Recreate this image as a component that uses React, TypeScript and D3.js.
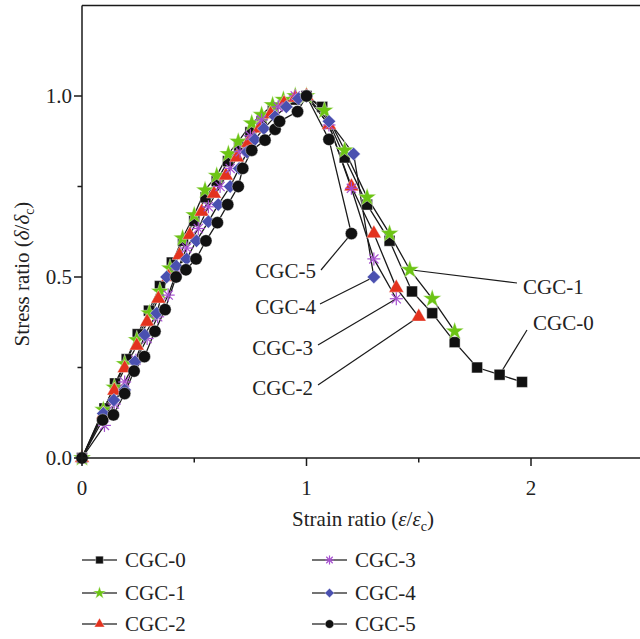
import { useEffect, useRef } from 'react';
import * as d3 from 'd3';

const WIDTH = 640;
const HEIGHT = 639;
const FONT = '"Liberation Serif", "DejaVu Serif", serif';

// strain ratio (x) and stress ratio (y) per specimen
const cgc0X = [0, 0.10, 0.147, 0.199, 0.248, 0.298, 0.347, 0.40, 0.45, 0.50, 0.55, 0.60, 0.65, 0.70, 0.75, 0.80, 0.85, 0.90, 0.95, 1.0, 1.07, 1.17, 1.27, 1.37, 1.47, 1.56, 1.66, 1.76, 1.86, 1.96];
const cgc0Y = [0, 0.137, 0.206, 0.273, 0.342, 0.407, 0.475, 0.54, 0.60, 0.655, 0.72, 0.765, 0.82, 0.86, 0.90, 0.93, 0.96, 0.98, 0.99, 1.0, 0.97, 0.83, 0.70, 0.60, 0.46, 0.40, 0.32, 0.25, 0.23, 0.21];

const cgc1X = [0, 0.095, 0.144, 0.19, 0.244, 0.30, 0.347, 0.392, 0.448, 0.50, 0.548, 0.60, 0.652, 0.696, 0.756, 0.80, 0.849, 0.897, 0.95, 1.0, 1.08, 1.17, 1.27, 1.37, 1.46, 1.56, 1.66];
const cgc1Y = [0, 0.133, 0.195, 0.26, 0.326, 0.40, 0.46, 0.524, 0.607, 0.671, 0.74, 0.78, 0.84, 0.874, 0.925, 0.948, 0.975, 0.99, 1.0, 1.0, 0.96, 0.85, 0.72, 0.62, 0.52, 0.44, 0.35];

const cgc2X = [0, 0.095, 0.144, 0.19, 0.244, 0.29, 0.34, 0.385, 0.434, 0.48, 0.533, 0.588, 0.641, 0.69, 0.74, 0.79, 0.84, 0.90, 0.95, 1.0, 1.10, 1.20, 1.30, 1.40, 1.50];
const cgc2Y = [0, 0.12, 0.186, 0.248, 0.31, 0.376, 0.44, 0.50, 0.56, 0.616, 0.68, 0.73, 0.78, 0.83, 0.87, 0.91, 0.95, 0.98, 0.995, 1.0, 0.92, 0.75, 0.62, 0.47, 0.39];

const cgc3X = [0, 0.10, 0.144, 0.19, 0.24, 0.29, 0.337, 0.384, 0.425, 0.466, 0.518, 0.563, 0.615, 0.66, 0.704, 0.75, 0.80, 0.874, 0.95, 1.0, 1.10, 1.20, 1.30, 1.40];
const cgc3Y = [0, 0.09, 0.149, 0.21, 0.27, 0.33, 0.39, 0.45, 0.52, 0.58, 0.634, 0.694, 0.75, 0.80, 0.846, 0.89, 0.934, 0.97, 1.0, 1.0, 0.92, 0.745, 0.55, 0.44];

const cgc4X = [0, 0.095, 0.142, 0.19, 0.236, 0.28, 0.333, 0.377, 0.42, 0.466, 0.51, 0.563, 0.607, 0.66, 0.70, 0.735, 0.77, 0.81, 0.86, 0.91, 0.964, 1.0, 1.10, 1.21, 1.30];
const cgc4Y = [0, 0.123, 0.16, 0.188, 0.266, 0.34, 0.40, 0.50, 0.53, 0.55, 0.60, 0.653, 0.70, 0.75, 0.80, 0.845, 0.88, 0.91, 0.943, 0.97, 0.993, 1.0, 0.93, 0.84, 0.50];

const cgc5X = [0, 0.092, 0.14, 0.19, 0.232, 0.278, 0.325, 0.37, 0.419, 0.463, 0.508, 0.552, 0.603, 0.649, 0.696, 0.716, 0.756, 0.815, 0.86, 0.88, 0.96, 1.0, 1.10, 1.20];
const cgc5Y = [0, 0.105, 0.119, 0.178, 0.24, 0.28, 0.35, 0.41, 0.50, 0.52, 0.55, 0.60, 0.65, 0.70, 0.75, 0.80, 0.85, 0.878, 0.908, 0.93, 0.957, 1.0, 0.88, 0.62];

const names = ['CGC-0', 'CGC-1', 'CGC-2', 'CGC-3', 'CGC-4', 'CGC-5'];
const colors = ['#111111', '#6cc414', '#e3321e', '#a64fd0', '#4a50b0', '#111111'];
const shapes = ['square', 'star', 'triangle', 'asterisk', 'diamond', 'circle'];

const xTicks = [0, 1, 2];
const xMinor = [0.5, 1.5, 2.5];
const yTicks = [0, 0.5, 1.0];
const yMinor = [0.25, 0.75];

const series = [
  [cgc0X, cgc0Y], [cgc1X, cgc1Y], [cgc2X, cgc2Y],
  [cgc3X, cgc3Y], [cgc4X, cgc4Y], [cgc5X, cgc5Y],
].map(([xs, ys], i) => ({
  name: names[i],
  color: colors[i],
  shape: shapes[i],
  points: xs.map((x, j) => ({ x, y: ys[j] })),
}));

// which point each callout points at, and where its label sits
const callouts = [
  { s: 5, idx: 23, lx: 321, ly: 270, tx: 316, ty: 278, anchor: 'end' },
  { s: 4, idx: 24, lx: 320, ly: 304, tx: 316, ty: 314, anchor: 'end' },
  { s: 3, idx: 23, lx: 318, ly: 345, tx: 313, ty: 355, anchor: 'end' },
  { s: 2, idx: 24, lx: 318, ly: 385, tx: 313, ty: 395, anchor: 'end' },
  { s: 1, idx: 24, lx: 517, ly: 283, tx: 523, ty: 294, anchor: 'start' },
  { s: 0, idx: 28, lx: 527, ly: 330, tx: 533, ty: 330, anchor: 'start' },
];

function drawMarker(g, shape, color, cx, cy, k) {
  if (shape === 'asterisk') {
    const r = 6.5 * k;
    const a = g.append('g').attr('transform', `translate(${cx},${cy})`);
    [0, 45, 90, 135].forEach((deg) => {
      const t = (deg * Math.PI) / 180;
      a.append('line')
        .attr('x1', -r * Math.cos(t)).attr('y1', -r * Math.sin(t))
        .attr('x2', r * Math.cos(t)).attr('y2', r * Math.sin(t))
        .attr('stroke', color).attr('stroke-width', 1.2);
    });
    return;
  }
  let type = d3.symbolSquare;
  let size = 118;
  let rot = 0;
  if (shape === 'star') { type = d3.symbolStar; size = 105; }
  if (shape === 'triangle') { type = d3.symbolTriangle; size = 95; }
  if (shape === 'diamond') { type = d3.symbolSquare; size = 90; rot = 45; }
  if (shape === 'circle') { type = d3.symbolCircle; size = 118; }
  g.append('path')
    .attr('d', d3.symbol().type(type).size(size * k * k)())
    .attr('transform', `translate(${cx},${cy}) rotate(${rot})`)
    .attr('fill', color)
    .attr('stroke', '#ffffff')
    .attr('stroke-width', 0.4);
}

export default function App() {
  const svgRef = useRef(null);

  useEffect(() => {
    const svg = d3.select(svgRef.current);
    svg.selectAll('*').remove();

    const x = d3.scaleLinear().domain([0, 2.5]).range([82, 643.25]);
    const y = d3.scaleLinear().domain([0, 1.25]).range([458, 5.5]);
    const [x0] = x.range();
    const [y0, y1] = y.range();

    const line = d3.line().x((d) => x(d.x)).y((d) => y(d.y));

    // series lines
    series.forEach((s) => {
      svg.append('path')
        .datum(s.points)
        .attr('d', line)
        .attr('fill', 'none')
        .attr('stroke', '#1a1a1a')
        .attr('stroke-width', 1.3);
    });

    // callout leader lines
    callouts.forEach((c) => {
      const p = series[c.s].points[c.idx];
      svg.append('line')
        .attr('x1', c.lx).attr('y1', c.ly)
        .attr('x2', x(p.x)).attr('y2', y(p.y))
        .attr('stroke', '#1a1a1a').attr('stroke-width', 1.2);
    });

    // markers
    series.forEach((s) => {
      s.points.forEach((p) => drawMarker(svg, s.shape, s.color, x(p.x), y(p.y), 1));
    });

    // callout labels
    callouts.forEach((c) => {
      svg.append('text')
        .attr('x', c.tx).attr('y', c.ty)
        .attr('text-anchor', c.anchor)
        .attr('font-family', FONT).attr('font-size', 21)
        .attr('fill', '#222')
        .text(series[c.s].name);
    });

    // axes frame
    const ax = svg.append('g').attr('stroke', '#1a1a1a').attr('stroke-width', 1.5);
    ax.append('line').attr('x1', x0).attr('x2', WIDTH).attr('y1', y0).attr('y2', y0);
    ax.append('line').attr('x1', x0).attr('x2', x0).attr('y1', y0).attr('y2', y1);
    ax.append('line').attr('x1', x0).attr('x2', WIDTH).attr('y1', y1).attr('y2', y1);

    xTicks.forEach((t) => {
      ax.append('line').attr('x1', x(t)).attr('x2', x(t)).attr('y1', y0).attr('y2', y0 + 8);
      svg.append('text')
        .attr('x', x(t)).attr('y', 495)
        .attr('text-anchor', 'middle')
        .attr('font-family', FONT).attr('font-size', 21).attr('fill', '#222')
        .text(d3.format('d')(t));
    });
    xMinor.forEach((t) => {
      ax.append('line').attr('x1', x(t)).attr('x2', x(t)).attr('y1', y0).attr('y2', y0 + 4.5);
    });
    yTicks.forEach((t) => {
      ax.append('line').attr('x1', x0 - 8).attr('x2', x0).attr('y1', y(t)).attr('y2', y(t));
      svg.append('text')
        .attr('x', 72).attr('y', y(t) + 7)
        .attr('text-anchor', 'end')
        .attr('font-family', FONT).attr('font-size', 21).attr('fill', '#222')
        .text(d3.format('.1f')(t));
    });
    yMinor.forEach((t) => {
      ax.append('line').attr('x1', x0 - 4.5).attr('x2', x0).attr('y1', y(t)).attr('y2', y(t));
    });

    // axis titles
    const xt = svg.append('text')
      .attr('x', 363).attr('y', 526)
      .attr('text-anchor', 'middle')
      .attr('font-family', FONT).attr('font-size', 21).attr('fill', '#222');
    xt.append('tspan').text('Strain ratio (');
    xt.append('tspan').attr('font-style', 'italic').text('ε');
    xt.append('tspan').text('/');
    xt.append('tspan').attr('font-style', 'italic').text('ε');
    xt.append('tspan').attr('font-size', 14).attr('dy', 5).text('c');
    xt.append('tspan').attr('dy', -5).text(')');

    const yt = svg.append('text')
      .attr('transform', 'translate(29,274) rotate(-90)')
      .attr('text-anchor', 'middle')
      .attr('font-family', FONT).attr('font-size', 21).attr('fill', '#222');
    yt.append('tspan').text('Stress ratio (');
    yt.append('tspan').attr('font-style', 'italic').text('δ');
    yt.append('tspan').text('/');
    yt.append('tspan').attr('font-style', 'italic').text('δ');
    yt.append('tspan').attr('font-size', 14).attr('dy', 5).text('c');
    yt.append('tspan').attr('dy', -5).text(')');

    // legend
    const rows = [560, 593, 624];
    series.forEach((s, i) => {
      const col = Math.floor(i / 3);
      const lx = col === 0 ? 82 : 312;
      const ly = rows[i % 3];
      svg.append('line')
        .attr('x1', lx).attr('x2', lx + 35).attr('y1', ly).attr('y2', ly)
        .attr('stroke', '#444').attr('stroke-width', 1.3);
      drawMarker(svg, s.shape, s.color, lx + 17.5, ly, 0.7);
      svg.append('text')
        .attr('x', lx + 43).attr('y', ly + 7)
        .attr('font-family', FONT).attr('font-size', 21).attr('fill', '#222')
        .text(s.name);
    });
  }, []);

  return (
    <svg
      ref={svgRef}
      width={WIDTH}
      height={HEIGHT}
      viewBox={`0 0 ${WIDTH} ${HEIGHT}`}
      style={{ position: 'absolute', left: 0, top: 0, background: '#fff' }}
    />
  );
}
